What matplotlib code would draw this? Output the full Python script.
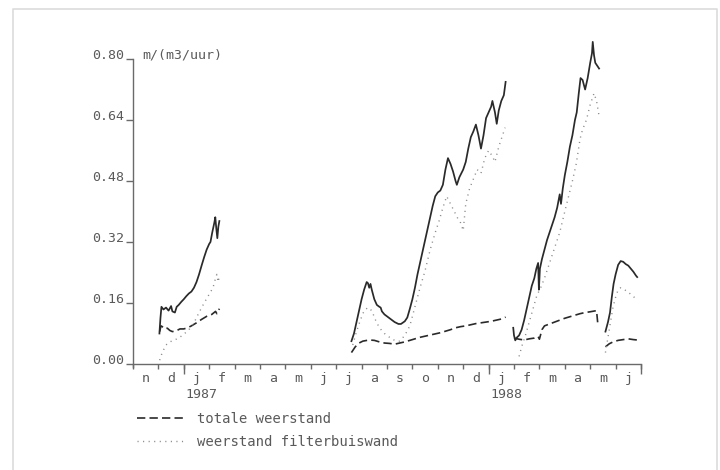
import numpy as np
import matplotlib
matplotlib.use("Agg")
import matplotlib.pyplot as plt
from matplotlib.lines import Line2D

# ---------------- data (x = months since 1 Nov 1986) ----------------
month_labels = ["n", "d", "j", "f", "m", "a", "m", "j", "j", "a", "s", "o",
                "n", "d", "j", "f", "m", "a", "m", "j"]
year_labels = ["1987", "1988"]
year_starts = [2, 14]
y_ticks = [0.00, 0.16, 0.32, 0.48, 0.64, 0.80]
y_tick_labels = ["0.00", "0.16", "0.32", "0.48", "0.64", "0.80"]

# solid (unlabelled) series, 4 segments
solid_x1 = [1.04, 1.08, 1.12, 1.2, 1.3, 1.4, 1.5, 1.55, 1.65, 1.72, 1.8, 1.9, 2.0, 2.1, 2.2,
            2.3, 2.4, 2.5, 2.6, 2.7, 2.8, 2.9, 3.0, 3.05, 3.12, 3.2, 3.24, 3.28, 3.32, 3.36, 3.40]
solid_y1 = [0.080, 0.120, 0.150, 0.143, 0.148, 0.140, 0.152, 0.138, 0.135, 0.150, 0.155, 0.163,
            0.170, 0.178, 0.185, 0.190, 0.200, 0.215, 0.235, 0.258, 0.280, 0.300, 0.315, 0.320,
            0.345, 0.370, 0.385, 0.355, 0.330, 0.360, 0.375]
solid_x2 = [8.6, 8.7, 8.8, 8.9, 9.0, 9.1, 9.2, 9.25, 9.3, 9.35, 9.4, 9.5, 9.6, 9.7, 9.75, 9.8,
            9.9, 10.0, 10.1, 10.2, 10.3, 10.45, 10.55, 10.7, 10.8, 10.9, 11.0, 11.1, 11.2, 11.3,
            11.4, 11.5, 11.6, 11.7, 11.8, 11.9, 12.0, 12.1, 12.2, 12.3, 12.4, 12.5, 12.6, 12.7,
            12.75, 12.85, 13.0, 13.1, 13.2, 13.3, 13.4, 13.5, 13.6, 13.7, 13.8, 13.9, 14.0, 14.1,
            14.15, 14.25, 14.32, 14.4, 14.5, 14.6, 14.67]
solid_y2 = [0.060, 0.080, 0.110, 0.140, 0.170, 0.195, 0.215, 0.212, 0.200, 0.210, 0.195, 0.170,
            0.155, 0.150, 0.148, 0.138, 0.130, 0.125, 0.120, 0.115, 0.110, 0.105, 0.105, 0.112,
            0.122, 0.145, 0.170, 0.200, 0.235, 0.265, 0.295, 0.325, 0.355, 0.385, 0.415, 0.440,
            0.450, 0.455, 0.470, 0.510, 0.540, 0.525, 0.505, 0.480, 0.470, 0.490, 0.510, 0.530,
            0.565, 0.595, 0.610, 0.628, 0.600, 0.565, 0.600, 0.645, 0.660, 0.675, 0.690, 0.660,
            0.630, 0.665, 0.690, 0.705, 0.740]
solid_x3 = [14.97, 15.0, 15.05, 15.12, 15.2, 15.3, 15.4, 15.5, 15.6, 15.7, 15.8, 15.88, 15.95,
            15.98, 16.02, 16.1, 16.2, 16.3, 16.4, 16.5, 16.6, 16.7, 16.8, 16.85, 16.92, 17.0,
            17.1, 17.2, 17.3, 17.4, 17.47, 17.55, 17.62, 17.7, 17.8, 17.9, 18.0, 18.07, 18.1,
            18.15, 18.2, 18.3, 18.35]
solid_y3 = [0.095, 0.075, 0.062, 0.070, 0.075, 0.090, 0.115, 0.145, 0.175, 0.205, 0.225, 0.250,
            0.265, 0.195, 0.250, 0.275, 0.300, 0.325, 0.345, 0.365, 0.385, 0.410, 0.445, 0.420,
            0.460, 0.495, 0.530, 0.570, 0.600, 0.640, 0.660, 0.710, 0.750, 0.745, 0.720, 0.750,
            0.790, 0.815, 0.845, 0.810, 0.790, 0.780, 0.775]
solid_x4 = [18.6, 18.7, 18.78, 18.85, 18.92, 19.0, 19.1, 19.2, 19.3, 19.4, 19.5, 19.6, 19.7, 19.8, 19.85]
solid_y4 = [0.085, 0.110, 0.135, 0.175, 0.210, 0.235, 0.260, 0.270, 0.268, 0.262, 0.258, 0.250,
            0.242, 0.232, 0.228]

# totale weerstand (dashed)
tot_x1 = [1.05, 1.1, 1.15, 1.25, 1.35, 1.45, 1.55, 1.7, 1.85, 2.0, 2.15, 2.3, 2.5, 2.7, 2.9,
          3.1, 3.25, 3.3, 3.4]
tot_y1 = [0.085, 0.100, 0.098, 0.092, 0.094, 0.088, 0.085, 0.087, 0.092, 0.092, 0.095, 0.100,
          0.108, 0.117, 0.125, 0.130, 0.138, 0.132, 0.145]
tot_x2 = [8.6, 8.75, 8.9, 9.05, 9.3, 9.5, 9.7, 9.9, 10.1, 10.3, 10.5, 10.7, 10.9, 11.1, 11.3,
          11.5, 11.7, 11.9, 12.1, 12.3, 12.5, 12.7, 12.9, 13.1, 13.3, 13.5, 13.7, 13.9, 14.1,
          14.3, 14.5, 14.67]
tot_y2 = [0.030, 0.045, 0.055, 0.060, 0.063, 0.062, 0.058, 0.055, 0.054, 0.052, 0.055, 0.058,
          0.062, 0.066, 0.070, 0.073, 0.076, 0.079, 0.082, 0.086, 0.090, 0.095, 0.098, 0.100,
          0.103, 0.106, 0.108, 0.110, 0.112, 0.115, 0.118, 0.123]
tot_x3 = [15.0, 15.2, 15.4, 15.6, 15.8, 15.95, 16.0, 16.1, 16.2, 16.4, 16.6, 16.8, 17.0, 17.2,
          17.4, 17.6, 17.8, 18.0, 18.25, 18.3]
tot_y3 = [0.068, 0.065, 0.063, 0.066, 0.068, 0.072, 0.065, 0.090, 0.100, 0.105, 0.110, 0.115,
          0.120, 0.124, 0.128, 0.132, 0.135, 0.137, 0.140, 0.105]
tot_x4 = [18.6, 18.75, 18.9, 19.1, 19.3, 19.5, 19.7, 19.85]
tot_y4 = [0.045, 0.053, 0.058, 0.062, 0.064, 0.066, 0.064, 0.063]

# weerstand filterbuiswand (dotted)
fil_x1 = [1.05, 1.15, 1.3, 1.45, 1.6, 1.8, 2.0, 2.2, 2.4, 2.6, 2.8, 3.0, 3.15, 3.25, 3.3, 3.35, 3.4]
fil_y1 = [0.010, 0.030, 0.050, 0.058, 0.062, 0.068, 0.078, 0.090, 0.108, 0.135, 0.160, 0.183,
          0.200, 0.225, 0.235, 0.215, 0.230]
fil_x2 = [8.65, 8.8, 8.95, 9.1, 9.25, 9.4, 9.55, 9.7, 9.9, 10.1, 10.3, 10.5, 10.7, 10.9, 11.1,
          11.3, 11.5, 11.7, 11.9, 12.05, 12.2, 12.35, 12.5, 12.65, 12.8, 12.9, 13.0, 13.1, 13.25,
          13.4, 13.55, 13.7, 13.85, 14.0, 14.15, 14.25, 14.4, 14.55, 14.65]
fil_y2 = [0.050, 0.085, 0.115, 0.140, 0.148, 0.140, 0.115, 0.095, 0.080, 0.070, 0.062, 0.060,
          0.075, 0.100, 0.150, 0.200, 0.245, 0.300, 0.345, 0.375, 0.410, 0.440, 0.420, 0.400,
          0.380, 0.370, 0.350, 0.420, 0.460, 0.485, 0.510, 0.500, 0.540, 0.560, 0.545, 0.530,
          0.570, 0.600, 0.620]
fil_x3 = [15.2, 15.3, 15.45, 15.6, 15.75, 15.9, 16.05, 16.2, 16.4, 16.6, 16.8, 17.0, 17.15,
          17.3, 17.45, 17.6, 17.7, 17.85, 18.0, 18.15, 18.25, 18.35]
fil_y3 = [0.020, 0.045, 0.075, 0.110, 0.145, 0.180, 0.200, 0.225, 0.265, 0.305, 0.345, 0.400,
          0.440, 0.480, 0.525, 0.590, 0.615, 0.640, 0.680, 0.710, 0.690, 0.650]
fil_x4 = [18.6, 18.7, 18.8, 18.9, 19.0, 19.1, 19.2, 19.35, 19.5, 19.65, 19.85]
fil_y4 = [0.030, 0.070, 0.110, 0.150, 0.175, 0.195, 0.200, 0.195, 0.188, 0.180, 0.168]

# ---------------- figure ----------------
W, H = 720, 470
fig = plt.figure(figsize=(W / 100, H / 100), dpi=100)
fig.patch.set_facecolor("white")

FONT = "DejaVu Sans Mono"
TXT = "#5a5a5a"
LINE = "#2a2a2a"

# outer light frame
for xs, ys in [([13, 13], [0, 9]), ([13, 717], [9, 9]), ([717, 717], [9, 0])]:
    pass
frame_pts = [(13 / W, 0.0), (13 / W, 1 - 9 / H), (717 / W, 1 - 9 / H), (717 / W, 0.0)]
fig.add_artist(Line2D([p[0] for p in frame_pts], [p[1] for p in frame_pts],
                      transform=fig.transFigure, color="#dcdcdc", lw=1.2))

ax_left, ax_right = 133, 641
ax_bottom, ax_top = 364, 28.5
ax = fig.add_axes([ax_left / W, 1 - ax_bottom / H, (ax_right - ax_left) / W,
                   (ax_bottom - ax_top) / H])
ax.set_xlim(0, 20)
ax.set_ylim(0, 0.88)
ax.patch.set_alpha(0)

for s in ["top", "right"]:
    ax.spines[s].set_visible(False)
ax.spines["left"].set_bounds(-0.008, 0.80)
ax.spines["bottom"].set_bounds(0, 20)
for s in ["left", "bottom"]:
    ax.spines[s].set_color("#6a6a6a")
    ax.spines[s].set_linewidth(1.0)

solid_kw = dict(color=LINE, lw=1.25, solid_joinstyle="round")
dash_kw = dict(color=LINE, lw=1.2, linestyle=(0, (5, 2.5)))
dot_kw = dict(color="#8a8a8a", lw=1.0, linestyle=(0, (0.8, 3.2)))

for xs, ys in [(solid_x1, solid_y1), (solid_x2, solid_y2), (solid_x3, solid_y3), (solid_x4, solid_y4)]:
    ax.plot(xs, ys, clip_on=False, **solid_kw)
for i, (xs, ys) in enumerate([(tot_x1, tot_y1), (tot_x2, tot_y2), (tot_x3, tot_y3), (tot_x4, tot_y4)]):
    ax.plot(xs, ys, clip_on=False, label="totale weerstand" if i == 0 else None, **dash_kw)
for i, (xs, ys) in enumerate([(fil_x1, fil_y1), (fil_x2, fil_y2), (fil_x3, fil_y3), (fil_x4, fil_y4)]):
    ax.plot(xs, ys, clip_on=False, label="weerstand filterbuiswand" if i == 0 else None, **dot_kw)

# y ticks
ax.set_yticks(y_ticks)
ax.set_yticklabels(y_tick_labels, fontfamily=FONT, fontsize=9.5, color=TXT)
for lab in ax.get_yticklabels():
    lab.set_verticalalignment("baseline")
ax.tick_params(axis="y", direction="out", length=5, width=1.0, color="#6a6a6a", pad=1.5)

# x ticks: month boundaries (major) + month centre labels (minor)
ax.set_xticks(np.arange(0, 21))
ax.set_xticklabels([])
ax.tick_params(axis="x", which="major", direction="out", length=3.5, width=1.0, color="#6a6a6a")
ax.set_xticks(np.arange(len(month_labels)) + 0.5, minor=True)
ax.set_xticklabels(month_labels, minor=True, fontfamily=FONT, fontsize=9.5, color=TXT)
ax.tick_params(axis="x", which="minor", length=0, pad=6)

# longer ticks at the year boundaries and the right end
sec = ax.secondary_xaxis("bottom")
sec.set_xticks(year_starts + [20])
sec.set_xticklabels([])
sec.tick_params(axis="x", direction="out", length=7, width=1.0, color="#6a6a6a")
sec.spines["bottom"].set_visible(False)

# year labels
import matplotlib.transforms as mtransforms
trans = mtransforms.blended_transform_factory(ax.transData, ax.transAxes)
for xs, lab in zip(year_starts, year_labels):
    ax.text(xs + 0.08, (ax_bottom - 394) / (ax_bottom - ax_top), lab, transform=trans,
            fontfamily=FONT, fontsize=9.5, color=TXT, ha="left", va="center")

# unit label
ax.text(0.38, 0.80, "m/(m3/uur)", fontfamily=FONT, fontsize=9.5, color=TXT,
        ha="left", va="baseline")

# legend
leg = fig.legend(loc="upper left", bbox_to_anchor=(137 / W, 1 - 412 / H), frameon=False,
                 prop={"family": FONT, "size": 10}, handlelength=3.4, handletextpad=0.9,
                 labelspacing=0.65, borderpad=0, borderaxespad=0)
for t in leg.get_texts():
    t.set_color(TXT)

fig.savefig("out.png", dpi=100, facecolor="white")
